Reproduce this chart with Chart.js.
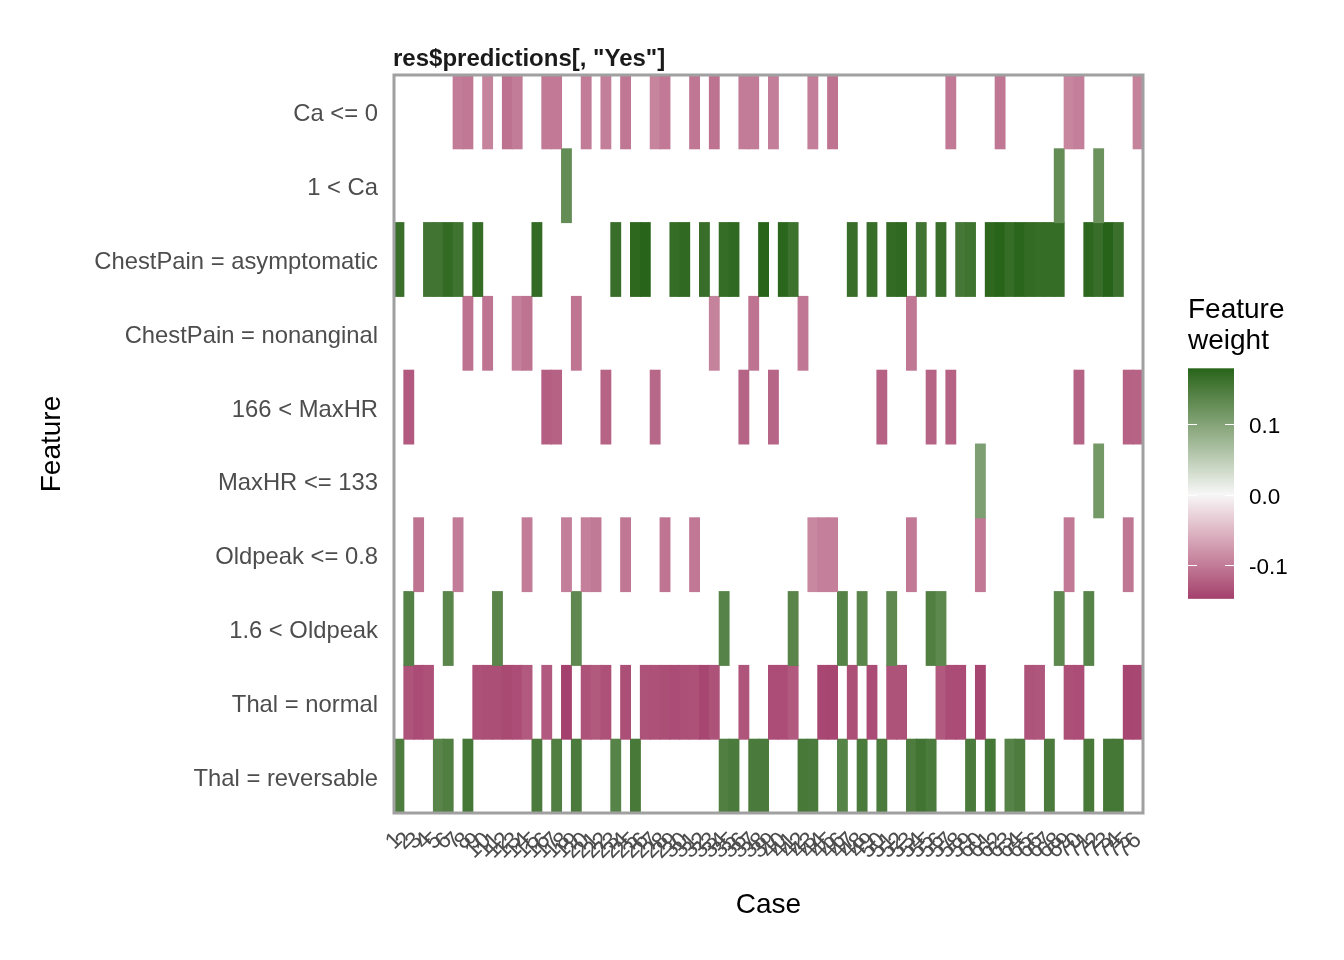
<!DOCTYPE html>
<html><head><meta charset="utf-8">
<script src="https://cdn.jsdelivr.net/npm/chart.js@4.4.1/dist/chart.umd.min.js"></script>
<style>html,body{margin:0;padding:0;background:#fff;}canvas{display:block;}</style>
</head><body>
<canvas id="c" width="1344" height="960"></canvas>
<script>
// ---------------- DATA ----------------
const chartTitle = 'res$predictions[, "Yes"]';
const features = ["Ca <= 0", "1 < Ca", "ChestPain = asymptomatic", "ChestPain = nonanginal",
  "166 < MaxHR", "MaxHR <= 133", "Oldpeak <= 0.8", "1.6 < Oldpeak", "Thal = normal", "Thal = reversable"];
const cases = ["1","2","3","4","5","6","7","8","9","10","11","12","13","14","15","16","17","18","19","20",
  "21","22","23","24","25","26","27","28","29","30","31","32","33","34","35","36","37","38","39","40",
  "41","42","43","44","45","46","47","48","49","50","51","52","53","54","55","56","57","58","59","60",
  "61","62","63","64","65","66","67","68","69","70","71","72","73","74","75","76"];
const legendTicks = [0.1, 0.0, -0.1];
const legendTickLabels = ["0.1", "0.0", "-0.1"];

// [case, weight] per feature
const caLe0 = [[7,-0.100],[8,-0.103],[10,-0.094],[12,-0.108],[13,-0.100],[16,-0.102],[17,-0.102],[20,-0.100],
  [22,-0.098],[24,-0.104],[27,-0.093],[28,-0.102],[31,-0.104],[33,-0.108],[36,-0.100],[37,-0.100],[39,-0.098],
  [43,-0.098],[45,-0.106],[57,-0.102],[62,-0.104],[69,-0.092],[70,-0.097],[76,-0.095]];
const caGt1 = [[18,0.128],[68,0.128],[72,0.122]];
const chestAsym = [[1,0.165],[4,0.158],[5,0.158],[6,0.170],[7,0.160],[9,0.168],[15,0.170],[23,0.166],[25,0.174],
  [26,0.178],[29,0.168],[30,0.172],[32,0.166],[34,0.168],[35,0.172],[38,0.178],[40,0.176],[41,0.162],[47,0.166],
  [49,0.166],[51,0.170],[52,0.172],[54,0.158],[56,0.166],[58,0.155],[59,0.160],[61,0.174],[62,0.178],[63,0.168],
  [64,0.176],[65,0.170],[66,0.168],[67,0.168],[68,0.168],[71,0.174],[72,0.166],[73,0.179],[74,0.164]];
const chestNonang = [[8,-0.108],[10,-0.106],[13,-0.097],[14,-0.107],[19,-0.105],[33,-0.095],[37,-0.107],
  [42,-0.104],[53,-0.104]];
const maxHrGt166 = [[2,-0.128],[16,-0.123],[17,-0.121],[22,-0.120],[27,-0.117],[36,-0.119],[39,-0.118],
  [50,-0.121],[55,-0.119],[57,-0.121],[70,-0.119],[75,-0.121],[76,-0.120]];
const maxHrLe133 = [[60,0.105],[72,0.113]];
const oldpeakLe08 = [[3,-0.106],[7,-0.100],[14,-0.100],[18,-0.098],[20,-0.096],[21,-0.101],[24,-0.104],
  [28,-0.105],[31,-0.103],[43,-0.090],[44,-0.096],[45,-0.097],[53,-0.102],[60,-0.102],[69,-0.102],[75,-0.104]];
const oldpeakGt16 = [[2,0.142],[6,0.137],[11,0.138],[19,0.133],[34,0.140],[41,0.138],[46,0.140],[48,0.137],
  [51,0.133],[55,0.145],[56,0.134],[68,0.134],[71,0.140]];
const thalNormal = [[2,-0.132],[3,-0.138],[4,-0.134],[9,-0.134],[10,-0.136],[11,-0.136],[12,-0.140],[13,-0.137],
  [14,-0.128],[16,-0.128],[18,-0.147],[20,-0.133],[21,-0.127],[22,-0.134],[24,-0.136],[26,-0.133],[27,-0.134],
  [28,-0.136],[29,-0.138],[30,-0.135],[31,-0.134],[32,-0.142],[33,-0.133],[36,-0.131],[39,-0.137],[40,-0.137],
  [41,-0.128],[44,-0.141],[45,-0.142],[47,-0.135],[49,-0.138],[51,-0.133],[52,-0.133],[56,-0.128],[57,-0.138],
  [58,-0.138],[60,-0.143],[65,-0.132],[66,-0.130],[69,-0.135],[70,-0.137],[75,-0.143],[76,-0.141]];
const thalRevers = [[1,0.148],[5,0.138],[6,0.145],[8,0.155],[15,0.150],[17,0.145],[19,0.150],[23,0.140],
  [25,0.152],[34,0.145],[35,0.150],[37,0.150],[38,0.150],[42,0.152],[43,0.150],[46,0.140],[48,0.150],[50,0.150],
  [53,0.148],[54,0.158],[55,0.150],[59,0.150],[61,0.155],[63,0.140],[64,0.148],[67,0.150],[71,0.152],[73,0.155],
  [74,0.155]];
const featureRows = [caLe0, caGt1, chestAsym, chestNonang, maxHrGt166, maxHrLe133, oldpeakLe08, oldpeakGt16,
  thalNormal, thalRevers];

// ---------------- COLOUR SCALE (Lab interpolation, like scale_fill_gradient2) ----------------
const lowCol = "#8E0152", midCol = "#F7F7F7", highCol = "#276419";
function s2l(c){c/=255;return c<=0.04045?c/12.92:Math.pow((c+0.055)/1.055,2.4);}
function l2s(c){const v=c<=0.0031308?12.92*c:1.055*Math.pow(c,1/2.4)-0.055;return Math.round(Math.max(0,Math.min(1,v))*255);}
const Xn=0.95047,Yn=1,Zn=1.08883;
function fLab(t){return t>0.008856?Math.cbrt(t):7.787*t+16/116;}
function fInv(t){const t3=t*t*t;return t3>0.008856?t3:(t-16/116)/7.787;}
function hexToLab(h){
  const r=s2l(parseInt(h.slice(1,3),16)),g=s2l(parseInt(h.slice(3,5),16)),b=s2l(parseInt(h.slice(5,7),16));
  const X=0.4124*r+0.3576*g+0.1805*b, Y=0.2126*r+0.7152*g+0.0722*b, Z=0.0193*r+0.1192*g+0.9505*b;
  const fx=fLab(X/Xn),fy=fLab(Y/Yn),fz=fLab(Z/Zn);
  return [116*fy-16,500*(fx-fy),200*(fy-fz)];
}
function labToRgb(L,a,b){
  const fy=(L+16)/116, fx=fy+a/500, fz=fy-b/200;
  const X=fInv(fx)*Xn, Y=fInv(fy)*Yn, Z=fInv(fz)*Zn;
  const r=3.2406*X-1.5372*Y-0.4986*Z, g=-0.9689*X+1.8758*Y+0.0415*Z, bb=0.0557*X-0.2040*Y+1.0570*Z;
  return `rgb(${l2s(r)},${l2s(g)},${l2s(bb)})`;
}
const LOW=hexToLab(lowCol), MID=hexToLab(midCol), HIGH=hexToLab(highCol);
let allW=[]; featureRows.forEach(r=>r.forEach(p=>allW.push(p[1])));
const wMin=Math.min(...allW), wMax=Math.max(...allW);
const maxAbs=Math.max(Math.abs(wMin),Math.abs(wMax));
function colorFor(v){
  if(v===null||v===undefined) return 'rgba(0,0,0,0)';
  let t=v/maxAbs; const end=t>=0?HIGH:LOW; t=Math.min(1,Math.abs(t));
  return labToRgb(MID[0]+(end[0]-MID[0])*t, MID[1]+(end[1]-MID[1])*t, MID[2]+(end[2]-MID[2])*t);
}

// ---------------- DATASETS ----------------
const datasets = featureRows.map((row, r) => {
  const data = cases.map(() => null);
  const w = cases.map(() => null);
  row.forEach(([c, v]) => { data[c-1] = [r, r+1]; w[c-1] = v; });
  return {
    label: features[r], data,
    backgroundColor: ctx => colorFor(w[ctx.dataIndex]),
    borderWidth: 0, barPercentage: 1, categoryPercentage: 1, grouped: false, inflateAmount: 0.5
  };
});

const FONT = "'Liberation Sans', Arial, Helvetica, sans-serif";
Chart.defaults.font.family = FONT;

const framePlugin = {
  id: 'frame',
  afterDatasetsDraw(chart){
    const {ctx, chartArea:a} = chart;
    ctx.save();
    ctx.strokeStyle = '#a0a0a0'; ctx.lineWidth = 3;
    ctx.strokeRect(a.left, a.top, a.right-a.left, a.bottom-a.top);
    ctx.restore();
  },
  afterDraw(chart){
    const {ctx, chartArea:a} = chart;
    ctx.save();
    // title
    ctx.fillStyle = '#1a1a1a'; ctx.font = `bold 24px ${FONT}`;
    ctx.textAlign = 'left'; ctx.textBaseline = 'alphabetic';
    ctx.fillText(chartTitle, a.left - 1, 66);
    // colour bar legend
    const bx = 1188, bw = 46, zeroY = 494.5, pxPerUnit = 705;
    const yOf = v => zeroY - v * pxPerUnit;
    const top = yOf(wMax), bot = yOf(wMin);
    for (let y = Math.floor(top); y < Math.ceil(bot); y++) {
      const v = (zeroY - (y + 0.5)) / pxPerUnit;
      ctx.fillStyle = colorFor(Math.max(wMin, Math.min(wMax, v)));
      const y0 = Math.max(y, top), y1 = Math.min(y + 1, bot);
      ctx.fillRect(bx, y0, bw, y1 - y0 + 0.5);
    }
    ctx.strokeStyle = '#ffffff'; ctx.lineWidth = 1.2;
    ctx.fillStyle = '#000'; ctx.font = `22.5px ${FONT}`; ctx.textBaseline = 'middle';
    legendTicks.forEach((t, i) => {
      const y = Math.round(yOf(t)) + 0.5;
      ctx.beginPath(); ctx.moveTo(bx, y); ctx.lineTo(bx + 9, y);
      ctx.moveTo(bx + bw - 9, y); ctx.lineTo(bx + bw, y); ctx.stroke();
      ctx.fillText(legendTickLabels[i], 1249, y + 2);
    });
    ctx.font = `28px ${FONT}`; ctx.textBaseline = 'alphabetic';
    ctx.fillText('Feature', 1188, 318);
    ctx.fillText('weight', 1188, 349);
    ctx.restore();
  }
};

new Chart(document.getElementById('c'), {
  type: 'bar',
  data: { labels: cases, datasets },
  options: {
    responsive: false, animation: false, devicePixelRatio: 1,
    layout: { padding: { left: 0, right: 201, top: 75, bottom: 0 } },
    plugins: { legend: { display: false }, tooltip: { enabled: false }, title: { display: false } },
    scales: {
      x: {
        type: 'category', offset: true,
        grid: { display: false, drawTicks: false, tickLength: 0 }, border: { display: false },
        ticks: { autoSkip: false, minRotation: 45, maxRotation: 45, font: { size: 23 }, color: '#4d4d4d', padding: 14 },
        title: { display: true, text: 'Case', font: { size: 28 }, color: '#000', padding: { top: 0, bottom: 38 } },
        afterFit(s) { s.height = 147; }
      },
      y: {
        type: 'linear', min: 0, max: 10, reverse: true,
        grid: { display: false, drawTicks: false, tickLength: 0 }, border: { display: false },
        afterBuildTicks(s) { s.ticks = features.map((f, i) => ({ value: i + 0.54 })); },
        ticks: { autoSkip: false, font: { size: 23.8 }, color: '#4d4d4d', padding: 16,
                 callback: v => features[Math.floor(v)] },
        title: { display: true, text: 'Feature', font: { size: 28 }, color: '#000', padding: { top: 35, bottom: 0 } },
        afterFit(s) { s.width = 394; }
      }
    }
  },
  plugins: [framePlugin]
});
</script>
</body></html>
